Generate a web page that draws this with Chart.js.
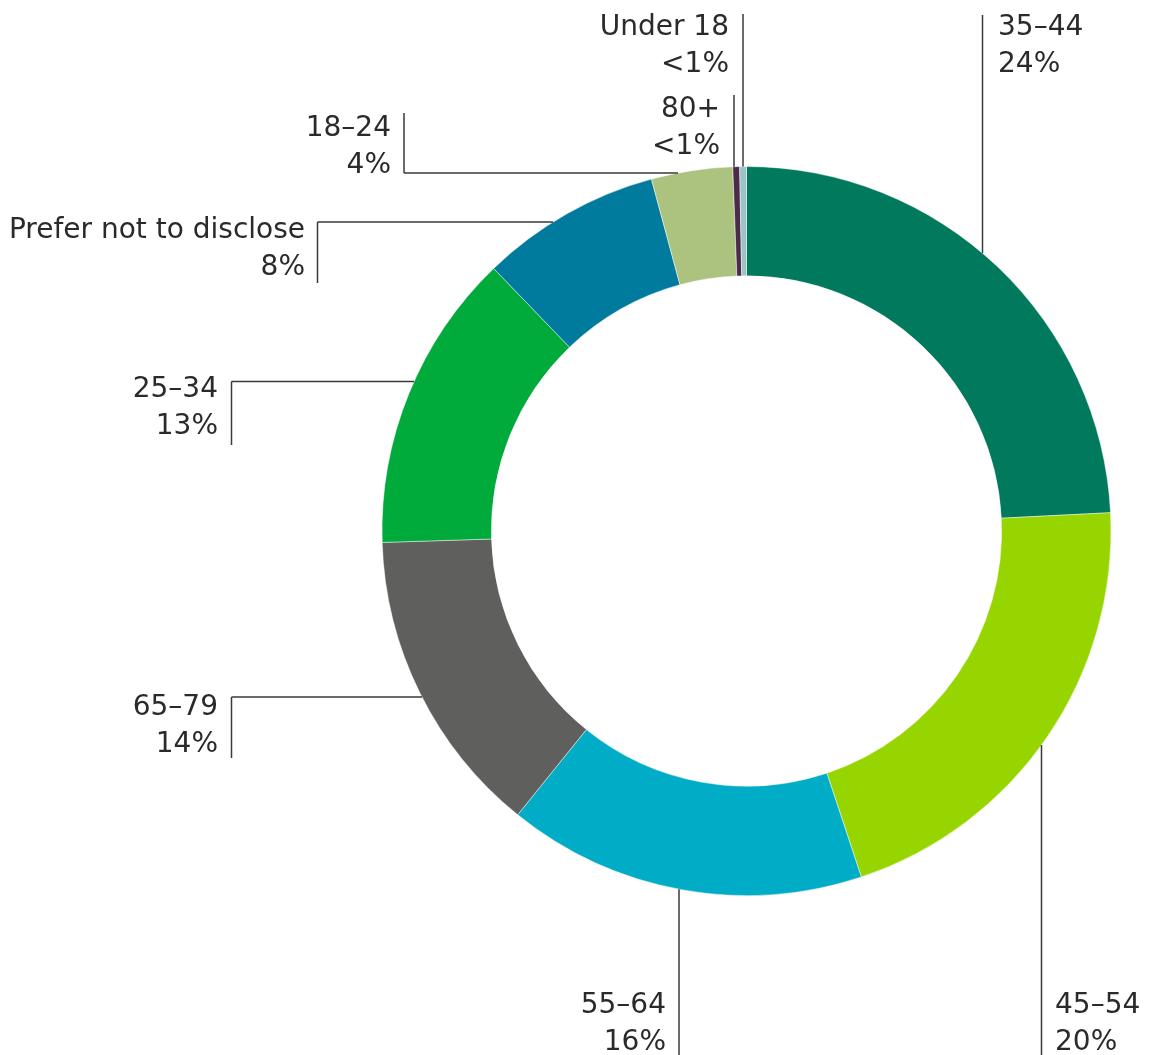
<!DOCTYPE html>
<html>
<head>
<meta charset="utf-8">
<script src="https://cdn.jsdelivr.net/npm/chart.js@4"></script>
<style>
  html, body { margin: 0; padding: 0; background: #fff; }
  #ageChart { display: block; }
</style>
</head>
<body>
<canvas id="ageChart" width="1149" height="1055"></canvas>
<script>
// age groups, clockwise from 12 o'clock
const categories = ['35–44', '45–54', '55–64', '65–79', '25–34', 'Prefer not to disclose', '18–24', '80+', 'Under 18'];
const shares = [24.2, 20.7, 15.9, 13.7, 13.3, 8.0, 3.6, 0.3, 0.3];
const shareLabels = ['24%', '20%', '16%', '14%', '13%', '8%', '4%', '<1%', '<1%'];
const colors = ['#00795d', '#97d500', '#00acc6', '#5f605d', '#00ab3c', '#007b9d', '#abc37f', '#4b2a4a', '#9cc3c8'];

// where each callout sits (kind: line from top down to ring, from ring down, or elbow)
const callouts = [
  { kind: 'vtop',    x: 982.5,  y0: 15,   tx: 998,  align: 'left',  base: 35 },
  { kind: 'vbottom', x: 1041.5, y1: 1055, tx: 1055, align: 'left',  base: 1013 },
  { kind: 'vbottom', x: 679,    y1: 1055, tx: 666,  align: 'right', base: 1013 },
  { kind: 'elbow',   x: 231.5,  y0: 697,  y1: 758,  hy: 697,   tx: 218, align: 'right', base: 715 },
  { kind: 'elbow',   x: 231.5,  y0: 381.5, y1: 445, hy: 381.5, tx: 218, align: 'right', base: 397 },
  { kind: 'elbow',   x: 317.5,  y0: 222,  y1: 283,  hy: 222,   tx: 305, align: 'right', base: 238 },
  { kind: 'elbow',   x: 404,    y0: 113,  y1: 173,  hy: 173,   tx: 391, align: 'right', base: 136 },
  { kind: 'vtop',    x: 734,    y0: 95,   tx: 720,  align: 'right', base: 117 },
  { kind: 'vtop',    x: 743,    y0: 14,   tx: 729,  align: 'right', base: 35 }
];

const calloutPlugin = {
  id: 'callouts',
  afterDraw(chart) {
    const ctx = chart.ctx;
    const arcs = chart.getDatasetMeta(0).data;
    if (!arcs.length) return;
    const cx = arcs[0].x, cy = arcs[0].y, r = arcs[0].outerRadius;
    ctx.save();
    ctx.strokeStyle = '#3a3a3a';
    ctx.lineWidth = 1.5;
    ctx.fillStyle = '#2a2a2a';
    ctx.font = '28px "DejaVu Sans", Verdana, sans-serif';
    ctx.textBaseline = 'alphabetic';
    callouts.forEach((c, i) => {
      ctx.beginPath();
      if (c.kind === 'vtop') {
        const dx = c.x - cx;
        const ringY = cy - Math.sqrt(r * r - dx * dx);
        ctx.moveTo(c.x, c.y0);
        ctx.lineTo(c.x, ringY);
      } else if (c.kind === 'vbottom') {
        const dx = c.x - cx;
        const ringY = cy + Math.sqrt(r * r - dx * dx);
        ctx.moveTo(c.x, ringY);
        ctx.lineTo(c.x, c.y1);
      } else {
        const dy = c.hy - cy;
        const ringX = cx - Math.sqrt(r * r - dy * dy);
        ctx.moveTo(c.x, c.y0);
        ctx.lineTo(c.x, c.y1);
        ctx.moveTo(c.x, c.hy);
        ctx.lineTo(ringX, c.hy);
      }
      ctx.stroke();
      ctx.textAlign = c.align;
      ctx.fillText(categories[i], c.tx, c.base);
      ctx.fillText(shareLabels[i], c.tx, c.base + 36.5);
    });
    ctx.restore();
  }
};

new Chart(document.getElementById('ageChart'), {
  type: 'doughnut',
  data: {
    labels: categories,
    datasets: [{
      data: shares,
      backgroundColor: colors,
      borderColor: 'rgba(255,255,255,0.45)',
      borderWidth: 1
    }]
  },
  options: {
    responsive: false,
    animation: false,
    cutout: '70%',
    layout: { padding: { left: 381.5, top: 166, right: 37.5, bottom: 159 } },
    plugins: {
      legend: { display: false },
      tooltip: { enabled: false }
    }
  },
  plugins: [calloutPlugin]
});
</script>
</body>
</html>
